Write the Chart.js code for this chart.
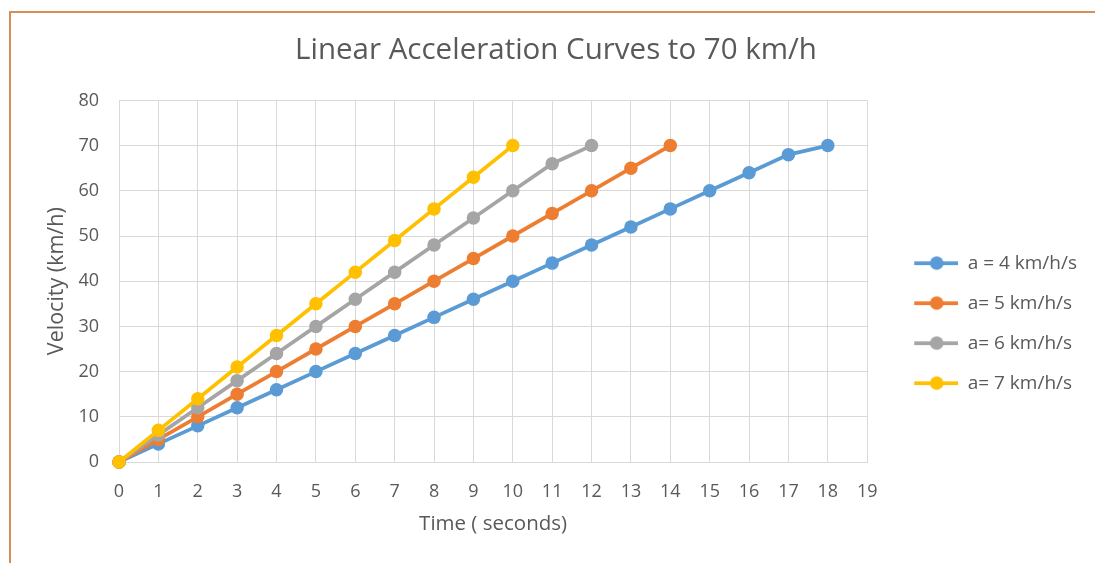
<!DOCTYPE html>
<html>
<head>
<meta charset="utf-8">
<script src="https://cdn.jsdelivr.net/npm/chart.js@4"></script>
<style>
  html, body { margin: 0; padding: 0; background: #fff; overflow: hidden; }
  #frame { position: absolute; left: 9px; top: 11px; width: 1200px; height: 700px;
           border-left: 2px solid #D68F56; border-top: 2px solid #D68F56; }
  #wrap { position: absolute; left: 0; top: 0; width: 1095px; height: 563px; }
</style>
</head>
<body>
<div id="frame"></div>
<div id="wrap"><canvas id="chart"></canvas></div>
<script>
// x axis: time in seconds
var timeLabels = ['0','1','2','3','4','5','6','7','8','9','10','11','12','13','14','15','16','17','18','19'];

// velocity (km/h) for each acceleration, until 70 km/h is reached
var velA4 = [0, 4, 8, 12, 16, 20, 24, 28, 32, 36, 40, 44, 48, 52, 56, 60, 64, 68, 70];
var velA5 = [0, 5, 10, 15, 20, 25, 30, 35, 40, 45, 50, 55, 60, 65, 70];
var velA6 = [0, 6, 12, 18, 24, 30, 36, 42, 48, 54, 60, 66, 70];
var velA7 = [0, 7, 14, 21, 28, 35, 42, 49, 56, 63, 70];

var seriesNames = ['a = 4 km/h/s', 'a= 5 km/h/s', 'a= 6 km/h/s', 'a= 7 km/h/s'];
var seriesColors = ['#5B9BD5', '#ED7D31', '#A5A5A5', '#FFC000'];

var FONT = "'Open Sans', sans-serif";
var TXT = '#595959';

// legend marker: line with a dot, like the excel legend
function legendMarker(color) {
    var c = document.createElement('canvas');
    c.width = 70; c.height = 16;
    var g = c.getContext('2d');
    g.strokeStyle = color;
    g.lineWidth = 3.75;
    g.beginPath(); g.moveTo(26, 8); g.lineTo(71, 8); g.stroke();
    g.fillStyle = color;
    g.beginPath(); g.arc(48.5, 8, 6.75, 0, Math.PI * 2); g.fill();
    return c;
}

var allVel = [velA4, velA5, velA6, velA7];
var datasets = [];
for (let i = 0; i < 4; i++) {
    datasets.push({
        label: seriesNames[i],
        data: allVel[i],
        borderColor: seriesColors[i],
        backgroundColor: seriesColors[i],
        borderWidth: 3.75,
        pointRadius: 6.75,
        pointHoverRadius: 6.75,
        pointBorderWidth: 0,
        tension: 0,
        clip: false,  // origin marker is not cut by the plot edge
        order: 3 - i  // last series drawn on top
    });
}

new Chart(document.getElementById('chart'), {
    type: 'line',
    data: { labels: timeLabels, datasets: datasets },
    options: {
        responsive: true,
        maintainAspectRatio: false,
        animation: false,
        layout: { padding: { left: 25, right: 8, top: 0, bottom: 0 } },
        plugins: {
            title: {
                display: true,
                text: 'Linear Acceleration Curves to 70 km/h',
                color: TXT,
                font: { family: FONT, size: 29.5, weight: 'normal' },
                padding: { top: 33, bottom: 32 }
            },
            legend: {
                position: 'right',
                title: { display: true, text: ' ', font: { size: 1 }, padding: { top: 82, bottom: 0 } },
                labels: {
                    color: TXT,
                    font: { family: FONT, size: 19 },
                    padding: 21,
                    usePointStyle: true,
                    pointStyleWidth: 70,
                    boxHeight: 19,
                    generateLabels: function(chart) {
                        return chart.data.datasets.map(function(ds, i) {
                            return {
                                text: ds.label,
                                fontColor: TXT,
                                pointStyle: legendMarker(ds.borderColor),
                                datasetIndex: i,
                                hidden: false,
                                lineWidth: 0
                            };
                        });
                    }
                }
            },
            tooltip: { enabled: false }
        },
        scales: {
            x: {
                grid: { color: '#D9D9D9', lineWidth: 1, drawTicks: false },
                border: { color: '#D9D9D9' },
                ticks: { color: TXT, font: { family: FONT, size: 18 }, padding: 19, maxRotation: 0, autoSkip: false },
                title: { display: true, text: 'Time ( seconds)', color: TXT,
                         font: { family: FONT, size: 20.5 }, padding: { top: 4, bottom: 27 } },
                afterFit: function(s) { s.height = 101; }
            },
            y: {
                min: 0, max: 80,
                grid: { color: '#D9D9D9', lineWidth: 1, drawTicks: false },
                border: { color: '#D9D9D9' },
                ticks: { stepSize: 10, color: TXT, font: { family: FONT, size: 18 }, padding: 20 },
                title: { display: true, text: 'Velocity (km/h)', color: TXT,
                         font: { family: FONT, size: 21.5 }, padding: { top: 19, bottom: 4 } },
                afterFit: function(s) { s.width = 94; }
            }
        }
    }
});
</script>
</body>
</html>
